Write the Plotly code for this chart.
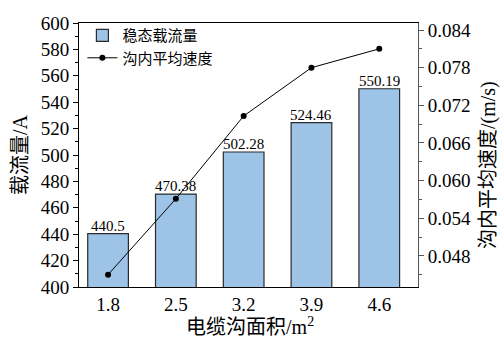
import plotly.graph_objects as go

# Cable trench area (m^2)
areas = [1.8, 2.5, 3.2, 3.9, 4.6]
area_labels = ["1.8", "2.5", "3.2", "3.9", "4.6"]
# Steady-state ampacity (A)
ampacity = [440.5, 470.38, 502.28, 524.46, 550.19]
# Mean air velocity inside the trench (m/s)
velocity = [0.045, 0.0571, 0.0703, 0.078, 0.081]
vel_ticks = [0.048, 0.054, 0.060, 0.066, 0.072, 0.078, 0.084]

serif = "Liberation Serif, Times New Roman, Noto Sans CJK SC, serif"
cjk = "Liberation Serif, Noto Sans CJK SC, serif"

fig = go.Figure()

fig.add_trace(go.Bar(
    x=areas, y=ampacity, width=0.42,
    name="稳态载流量",
    marker=dict(color="#9DC3E6", line=dict(color="#2b2b2b", width=1.2)),
))

fig.add_trace(go.Scatter(
    x=areas, y=velocity, yaxis="y2",
    name="沟内平均速度",
    mode="lines+markers",
    line=dict(color="black", width=1),
    marker=dict(color="black", size=6),
))

# value labels sitting on top of each bar
annotations = [
    dict(x=a, y=v, xref="x", yref="y", text=f"{v:g}", showarrow=False,
         yanchor="bottom", yshift=-2, font=dict(family=serif, size=15, color="black"))
    for a, v in zip(areas, ampacity)
]

# axis titles
annotations += [
    dict(x=-0.174, y=0.5, xref="paper", yref="paper", text="载流量/A", textangle=-90,
         showarrow=False, xanchor="center", yanchor="middle",
         font=dict(family=cjk, size=20, color="black")),
    dict(x=1.2065, y=0.462, xref="paper", yref="paper", text="沟内平均速度/(m/s)", textangle=-90,
         showarrow=False, xanchor="center", yanchor="middle",
         font=dict(family=cjk, size=20, color="black")),
    dict(x=0.505, y=-0.148, xref="paper", yref="paper", text="电缆沟面积/m<sup>2</sup>",
         showarrow=False, xanchor="center", yanchor="middle",
         font=dict(family=cjk, size=20, color="black")),
]

fig.update_layout(
    width=501, height=338,
    margin=dict(l=79, r=83, t=23, b=51, autoexpand=False),
    plot_bgcolor="white", paper_bgcolor="white",
    font=dict(family=cjk, color="black"),
    showlegend=True,
    annotations=annotations,
    legend=dict(
        x=0.01, y=1.015, xanchor="left", yanchor="top",
        bgcolor="rgba(0,0,0,0)",
        font=dict(family=cjk, size=15, color="black"),
        tracegroupgap=0, itemwidth=30,
    ),
    xaxis=dict(
        range=[1.5, 5.0], automargin=False,
        tickvals=areas, ticktext=area_labels,
        ticks="", showgrid=False, zeroline=False,
        showline=True, linecolor="black", linewidth=1, mirror=True,
        tickfont=dict(family=serif, size=19),
    ),
    yaxis=dict(
        range=[400, 600], dtick=20, tick0=400, automargin=False,
        ticks="outside", ticklen=5, tickwidth=1, tickcolor="black",
        minor=dict(dtick=10, ticks="outside", ticklen=3, tickcolor="black", showgrid=False),
        showgrid=False, zeroline=False,
        showline=True, linecolor="black", linewidth=1,
        tickfont=dict(family=serif, size=19),
    ),
    yaxis2=dict(
        overlaying="y", side="right", automargin=False,
        range=[0.04304, 0.08512],
        tickvals=vel_ticks,
        ticktext=[f"{t:.3f}" for t in vel_ticks],
        ticks="outside", ticklen=5, tickwidth=1, tickcolor="#555555",
        minor=dict(tickvals=[0.045, 0.051, 0.057, 0.063, 0.069, 0.075, 0.081],
                   ticks="outside", ticklen=3, tickcolor="#555555", showgrid=False),
        showgrid=False, zeroline=False,
        showline=True, linecolor="#555555", linewidth=1,
        tickfont=dict(family=serif, size=19),
    ),
)

fig.write_html("out.html")
